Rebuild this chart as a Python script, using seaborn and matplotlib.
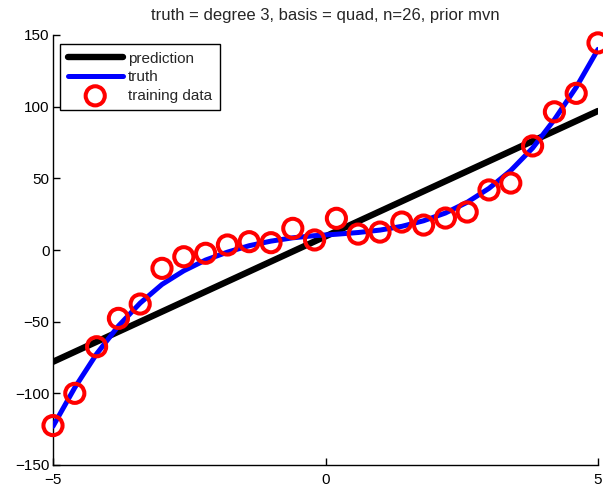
import numpy as np
import pandas as pd
import matplotlib
matplotlib.use("Agg")
import matplotlib.pyplot as plt
import seaborn as sns

# Training inputs and noisy targets
x_train = [-5.0, -4.6, -4.2, -3.8, -3.4, -3.0, -2.6, -2.2, -1.8, -1.4, -1.0, -0.6, -0.2,
           0.2, 0.6, 1.0, 1.4, 1.8, 2.2, 2.6, 3.0, 3.4, 3.8, 4.2, 4.6, 5.0]
y_train = [-122.5, -100.0, -67.5, -47.7, -37.7, -12.8, -4.7, -2.3, 3.5, 5.8, 5.1, 15.1, 7.0,
           22.1, 11.1, 12.5, 19.5, 17.4, 22.3, 26.5, 41.9, 46.7, 72.6, 96.4, 109.3, 144.5]

# True (noise-free) function values at the same inputs
y_truth = [-123.0, -96.0, -72.5, -53.0, -37.0, -24.0, -14.5, -7.0, -1.5, 3.0, 6.2, 8.5, 10.0,
           11.0, 12.2, 13.9, 16.5, 20.4, 25.8, 33.3, 43.0, 55.5, 71.1, 91.0, 113.5, 140.0]

# Fitted prediction over the input range
x_pred = [-5.0, 5.0]
y_pred = [-78.0, 97.0]

train = pd.DataFrame({"x": x_train, "y": y_train})
truth = pd.DataFrame({"x": x_train, "y": y_truth})
pred = pd.DataFrame({"x": x_pred, "y": y_pred})

sns.set_style("white")
plt.rcParams["font.family"] = ["Liberation Sans", "DejaVu Sans"]

fig = plt.figure(figsize=(6.03, 4.88), dpi=100)
ax = fig.add_axes([53 / 603, 23 / 488, 545 / 603, 430 / 488])

sns.lineplot(data=pred, x="x", y="y", ax=ax, color="black", linewidth=4.6,
             label="prediction", zorder=2)
sns.lineplot(data=truth, x="x", y="y", ax=ax, color="#0000ff", linewidth=3.6,
             label="truth", zorder=3)
sns.scatterplot(data=train, x="x", y="y", ax=ax, marker="o", s=190,
                facecolors="none", edgecolor="#ff0000", linewidth=2.9,
                label="training data", zorder=4, clip_on=False)

ax.set_xlim(-5, 5)
ax.set_ylim(-150, 150)
ax.set_xticks([-5, 0, 5])
ax.set_yticks([-150, -100, -50, 0, 50, 100, 150])
ax.set_xlabel("")
ax.set_ylabel("")
ax.set_title("truth = degree 3, basis = quad, n=26, prior mvn", fontsize=12, pad=11)

for side in ("top", "right"):
    ax.spines[side].set_visible(False)
for side in ("left", "bottom"):
    ax.spines[side].set_color("black")
    ax.spines[side].set_linewidth(1.0)
ax.tick_params(axis="both", direction="in", length=5, width=1, colors="black",
               labelsize=11, left=True, bottom=True)
ax.tick_params(axis="y", pad=2.5)
ax.tick_params(axis="x", pad=6)

leg = ax.legend(loc="upper left", bbox_to_anchor=(0.013, 0.979), fontsize=11,
                frameon=True, fancybox=False, edgecolor="black", framealpha=1,
                handlelength=3.6, handletextpad=0.35, labelspacing=0.3,
                borderpad=0.5, borderaxespad=0)
leg.get_frame().set_linewidth(1.0)

fig.savefig("out.png", dpi=100)
